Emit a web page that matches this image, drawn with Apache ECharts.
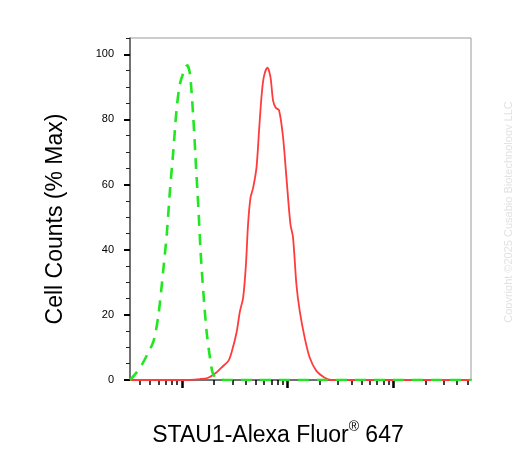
<!DOCTYPE html>
<html>
<head>
<meta charset="utf-8">
<script src="https://cdn.jsdelivr.net/npm/echarts@6/dist/echarts.min.js"></script>
<style>
  html, body { margin: 0; padding: 0; background: #fff; }
  #chart { width: 512px; height: 457px; }
</style>
</head>
<body>
<div id="chart"></div>
<script>
// isotype control (green dashed)
const isoX = [32.3, 37, 42, 48, 54, 60, 67, 72, 77, 83, 89, 96, 107, 112, 119, 128, 136, 143, 150, 159, 171, 184, 197, 220, 255, 1000, 10000, 54000]
const isoY = [0, 2.2, 4.8, 8.4, 12, 20, 34.5, 45, 58, 70.5, 83, 91, 95.7, 96.6, 94, 80.7, 65.3, 53, 39.7, 27.4, 15, 6.9, 1.8, 0.3, 0, 0, 0, 0]
// STAU1 stained (red)
const stainX = [32.3, 100, 148, 177, 212, 245, 274, 294, 328, 353, 379, 402, 422, 445, 471, 507, 536, 565, 594, 643, 687, 727, 771, 828, 903, 972, 1060, 1122, 1208, 1298, 1446, 1613, 1866, 2234, 2583, 10000, 54000]
const stainY = [0, 0, 0.3, 0.7, 2.3, 4.3, 5.8, 8.4, 14.5, 21, 25.3, 35, 47.9, 56, 59, 65.3, 76.6, 86.9, 93, 95.9, 93, 85.8, 83.6, 82.8, 74.6, 62.2, 47.9, 43.8, 29.4, 21.2, 13, 6.9, 2.8, 0.7, 0, 0, 0]
// axis ticks
const yLabels = [0, 20, 40, 60, 80, 100]
const yMinor = [5, 10, 15, 25, 30, 35, 45, 50, 55, 65, 70, 75, 85, 90, 95, 105]
const xMajor = [100, 1000, 10000]
const xMinor = [40, 50, 60, 70, 80, 90, 200, 300, 400, 500, 600, 700, 800, 900,
  2000, 3000, 4000, 5000, 6000, 7000, 8000, 9000, 20000, 30000, 40000, 50000]

const xMin = 32.3
const xMax = 54000

function pairs (xs, ys) {
  return xs.map((x, i) => [x, ys[i]])
}

const dom = document.getElementById('chart')
let myChart = echarts.init(dom)
let option = {
  animation: false,
  grid: {
    left: 130,
    top: 38,
    right: 41,
    bottom: 77,
    show: true,
    borderColor: '#9a9a9a',
    borderWidth: 1
  },
  xAxis: [
    {
      type: 'log',
      logBase: 10,
      min: xMin,
      max: xMax,
      position: 'bottom',
      axisLine: { lineStyle: { color: '#555', width: 1.5 } },
      axisTick: { customValues: xMajor, length: 8, lineStyle: { color: '#000', width: 2.5 } },
      axisLabel: { show: false },
      splitLine: { show: false }
    },
    {
      type: 'log',
      logBase: 10,
      min: xMin,
      max: xMax,
      position: 'bottom',
      axisLine: { show: false },
      axisTick: { customValues: xMinor, length: 5, lineStyle: { color: '#000', width: 1.5 } },
      axisLabel: { show: false },
      splitLine: { show: false }
    }
  ],
  yAxis: [
    {
      type: 'value',
      min: 0,
      max: 105,
      position: 'left',
      axisLine: { show: true, lineStyle: { color: '#555', width: 1.5 } },
      axisTick: { customValues: yLabels, length: 6, lineStyle: { color: '#000', width: 2 } },
      axisLabel: {
        customValues: yLabels,
        margin: 16,
        color: '#000',
        fontSize: 11,
        fontFamily: 'Liberation Sans'
      },
      splitLine: { show: false }
    },
    {
      type: 'value',
      min: 0,
      max: 105,
      position: 'left',
      axisLine: { show: false },
      axisTick: { customValues: yMinor, length: 4, lineStyle: { color: '#222', width: 1 } },
      axisLabel: { show: false },
      splitLine: { show: false }
    }
  ],
  series: [
    {
      name: 'STAU1',
      type: 'line',
      data: pairs(stainX, stainY),
      showSymbol: false,
      smooth: 0.3,
      lineStyle: { color: '#ff3b3b', width: 1.8 },
      z: 3
    },
    {
      name: 'Isotype',
      type: 'line',
      data: pairs(isoX, isoY),
      showSymbol: false,
      smooth: 0.3,
      lineStyle: { color: '#22e622', width: 2.6, type: [11, 8] },
      z: 4
    }
  ],
  graphic: [
    {
      type: 'text',
      x: 56,
      y: 219,
      rotation: Math.PI / 2,
      style: {
        text: 'Cell Counts (% Max)',
        font: '23px "Liberation Sans"',
        fill: '#000',
        align: 'center',
        verticalAlign: 'middle'
      }
    },
    {
      type: 'text',
      x: 278,
      y: 434,
      style: {
        text: '{a|STAU1-Alexa Fluor}{s|®}{a| 647}',
        fill: '#000',
        align: 'center',
        verticalAlign: 'middle',
        rich: {
          a: { font: '23px "Liberation Sans"', lineHeight: 27, verticalAlign: 'bottom' },
          s: { font: '14px "Liberation Sans"', lineHeight: 27, verticalAlign: 'top' }
        }
      }
    },
    {
      type: 'text',
      x: 509,
      y: 212,
      rotation: Math.PI / 2,
      style: {
        text: 'Copyright ©2025 Cusabio Biotechnology LLC',
        font: '11px "Liberation Sans"',
        fill: '#e2e2e2',
        align: 'center',
        verticalAlign: 'middle'
      }
    }
  ]
}
myChart.setOption(option, true)
</script>
</body>
</html>
